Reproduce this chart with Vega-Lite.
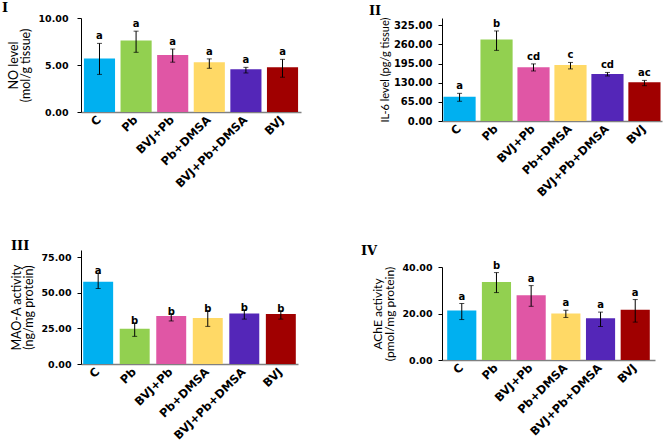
{
  "$schema": "https://vega.github.io/schema/vega-lite/v6.json",
  "padding": {"left": 2, "top": 2, "right": 2, "bottom": 2},
  "background": "white",
  "datasets": {
    "d": [
      {"panel": "I", "group": "C", "mean": 5.7, "lo": 4.0, "hi": 7.3, "letter": "a"},
      {"panel": "I", "group": "Pb", "mean": 7.6, "lo": 6.35, "hi": 8.6, "letter": "a"},
      {"panel": "I", "group": "BVJ+Pb", "mean": 6.06, "lo": 5.3, "hi": 6.7, "letter": "a"},
      {"panel": "I", "group": "Pb+DMSA", "mean": 5.29, "lo": 4.65, "hi": 5.65, "letter": "a"},
      {"panel": "I", "group": "BVJ+Pb+DMSA", "mean": 4.54, "lo": 4.15, "hi": 4.75, "letter": "a"},
      {"panel": "I", "group": "BVJ", "mean": 4.75, "lo": 3.7, "hi": 5.6, "letter": "a"},
      {"panel": "II", "group": "C", "mean": 82.7, "lo": 67, "hi": 94, "letter": "a"},
      {"panel": "II", "group": "Pb", "mean": 277, "lo": 240, "hi": 306, "letter": "b"},
      {"panel": "II", "group": "BVJ+Pb", "mean": 183, "lo": 170, "hi": 194, "letter": "cd"},
      {"panel": "II", "group": "Pb+DMSA", "mean": 190, "lo": 177, "hi": 199, "letter": "c"},
      {"panel": "II", "group": "BVJ+Pb+DMSA", "mean": 160, "lo": 153, "hi": 165, "letter": "cd"},
      {"panel": "II", "group": "BVJ", "mean": 132, "lo": 120, "hi": 138, "letter": "ac"},
      {"panel": "III", "group": "C", "mean": 57.7, "lo": 52.9, "hi": 63.6, "letter": "a"},
      {"panel": "III", "group": "Pb", "mean": 24.7, "lo": 19.4, "hi": 28.6, "letter": "b"},
      {"panel": "III", "group": "BVJ+Pb", "mean": 33.7, "lo": 30.2, "hi": 35.2, "letter": "b"},
      {"panel": "III", "group": "Pb+DMSA", "mean": 32.3, "lo": 26.4, "hi": 37.4, "letter": "b"},
      {"panel": "III", "group": "BVJ+Pb+DMSA", "mean": 35.4, "lo": 31.5, "hi": 37.8, "letter": "b"},
      {"panel": "III", "group": "BVJ", "mean": 35.1, "lo": 31.5, "hi": 37.2, "letter": "b"},
      {"panel": "IV", "group": "C", "mean": 21.3, "lo": 17.4, "hi": 24.3, "letter": "a"},
      {"panel": "IV", "group": "Pb", "mean": 33.6, "lo": 29.0, "hi": 37.6, "letter": "b"},
      {"panel": "IV", "group": "BVJ+Pb", "mean": 27.9, "lo": 23.1, "hi": 32.0, "letter": "a"},
      {"panel": "IV", "group": "Pb+DMSA", "mean": 20.0, "lo": 18.3, "hi": 21.4, "letter": "a"},
      {"panel": "IV", "group": "BVJ+Pb+DMSA", "mean": 18.0, "lo": 14.4, "hi": 20.6, "letter": "a"},
      {"panel": "IV", "group": "BVJ", "mean": 21.6, "lo": 16.3, "hi": 26.0, "letter": "a"}
    ]
  },
  "hconcat": [
    {
      "spacing": 50,
      "vconcat": [
        {
          "width": 220, "height": 94,
          "title": {"text": "I", "anchor": "start", "frame": "group", "dx": -79, "offset": -2},
          "data": {"name": "d"},
          "transform": [{"filter": "datum.panel === 'I'"}],
          "encoding": {"x": {"field": "group", "type": "nominal", "sort": ["C", "Pb", "BVJ+Pb", "Pb+DMSA", "BVJ+Pb+DMSA", "BVJ"], "scale": {"paddingInner": 0.15, "paddingOuter": 0.08}, "axis": {"title": null}}},
          "layer": [
            {"mark": {"type": "bar"}, "encoding": {
              "y": {"field": "mean", "type": "quantitative", "title": ["NO level", "(mol/g tissue)"], "scale": {"domain": [0, 10]}, "axis": {"values": [0, 5, 10], "tickCount": 20, "labelFontSize": 9.5, "labelPadding": 9}},
              "color": {"field": "group", "type": "nominal", "scale": {"domain": ["C", "Pb", "BVJ+Pb", "Pb+DMSA", "BVJ+Pb+DMSA", "BVJ"], "range": ["#00b0f0", "#92d050", "#e056a5", "#ffd966", "#5426b8", "#a00000"]}, "legend": null}}},
            {"mark": {"type": "errorbar", "ticks": {"size": 5}, "color": "black", "thickness": 1}, "encoding": {"y": {"field": "lo", "type": "quantitative", "title": ["NO level", "(mol/g tissue)"], "axis": {"values": [0, 5, 10], "tickCount": 20, "labelFontSize": 9.5, "labelPadding": 9}}, "y2": {"field": "hi"}}},
            {"mark": {"type": "text", "dy": -2, "baseline": "bottom", "font": "DejaVu Sans", "fontWeight": "bold", "fontSize": 10, "color": "black"}, "encoding": {"y": {"field": "hi", "type": "quantitative", "title": ["NO level", "(mol/g tissue)"], "axis": {"values": [0, 5, 10], "tickCount": 20, "labelFontSize": 9.5, "labelPadding": 9}}, "text": {"field": "letter"}}}
          ]
        },
        {
          "width": 217, "height": 114,
          "title": {"text": "III", "anchor": "start", "frame": "group", "dx": -70, "offset": -3},
          "data": {"name": "d"},
          "transform": [{"filter": "datum.panel === 'III'"}],
          "encoding": {"x": {"field": "group", "type": "nominal", "sort": ["C", "Pb", "BVJ+Pb", "Pb+DMSA", "BVJ+Pb+DMSA", "BVJ"], "scale": {"paddingInner": 0.18, "paddingOuter": 0.06}, "axis": {"title": null}}},
          "layer": [
            {"mark": {"type": "bar"}, "encoding": {
              "y": {"field": "mean", "type": "quantitative", "title": ["MAO-A activity", "(ng/mg protein)"], "scale": {"domain": [0, 75]}, "axis": {"values": [0, 25, 50, 75], "tickCount": 20, "labelFontSize": 9.5}},
              "color": {"field": "group", "type": "nominal", "scale": {"domain": ["C", "Pb", "BVJ+Pb", "Pb+DMSA", "BVJ+Pb+DMSA", "BVJ"], "range": ["#00b0f0", "#92d050", "#e056a5", "#ffd966", "#5426b8", "#a00000"]}, "legend": null}}},
            {"mark": {"type": "errorbar", "ticks": {"size": 5}, "color": "black", "thickness": 1}, "encoding": {"y": {"field": "lo", "type": "quantitative", "title": ["MAO-A activity", "(ng/mg protein)"], "axis": {"values": [0, 25, 50, 75], "tickCount": 20, "labelFontSize": 9.5}}, "y2": {"field": "hi"}}},
            {"mark": {"type": "text", "dy": 3, "baseline": "bottom", "font": "DejaVu Sans", "fontWeight": "bold", "fontSize": 10, "color": "black"}, "encoding": {"y": {"field": "hi", "type": "quantitative", "title": ["MAO-A activity", "(ng/mg protein)"], "axis": {"values": [0, 25, 50, 75], "tickCount": 20, "labelFontSize": 9.5}}, "text": {"field": "letter"}}}
          ]
        }
      ]
    },
    {
      "spacing": 45,
      "vconcat": [
        {
          "width": 220, "height": 103,
          "title": {"text": "II", "anchor": "start", "frame": "group", "dx": -73, "offset": -1},
          "data": {"name": "d"},
          "transform": [{"filter": "datum.panel === 'II'"}],
          "encoding": {"x": {"field": "group", "type": "nominal", "sort": ["C", "Pb", "BVJ+Pb", "Pb+DMSA", "BVJ+Pb+DMSA", "BVJ"], "scale": {"paddingInner": 0.13, "paddingOuter": 0.04}, "axis": {"title": null}}},
          "layer": [
            {"mark": {"type": "bar"}, "encoding": {
              "y": {"field": "mean", "type": "quantitative", "title": "IL-6 level (pg/g tissue)", "scale": {"domain": [0, 325]}, "axis": {"values": [0, 65, 130, 195, 260, 325], "tickCount": 20, "labelFontSize": 10, "titlePadding": 3, "titleFontSize": 11}},
              "color": {"field": "group", "type": "nominal", "scale": {"domain": ["C", "Pb", "BVJ+Pb", "Pb+DMSA", "BVJ+Pb+DMSA", "BVJ"], "range": ["#00b0f0", "#92d050", "#e056a5", "#ffd966", "#5426b8", "#a00000"]}, "legend": null}}},
            {"mark": {"type": "errorbar", "ticks": {"size": 5}, "color": "black", "thickness": 1}, "encoding": {"y": {"field": "lo", "type": "quantitative", "title": "IL-6 level (pg/g tissue)", "axis": {"values": [0, 65, 130, 195, 260, 325], "tickCount": 20, "labelFontSize": 10, "titlePadding": 3, "titleFontSize": 11}}, "y2": {"field": "hi"}}},
            {"mark": {"type": "text", "dy": -2, "baseline": "bottom", "font": "DejaVu Sans", "fontWeight": "bold", "fontSize": 10, "color": "black"}, "encoding": {"y": {"field": "hi", "type": "quantitative", "title": "IL-6 level (pg/g tissue)", "axis": {"values": [0, 65, 130, 195, 260, 325], "tickCount": 20, "labelFontSize": 10, "titlePadding": 3, "titleFontSize": 11}}, "text": {"field": "letter"}}}
          ]
        },
        {
          "width": 213, "height": 93,
          "title": {"text": "IV", "anchor": "start", "frame": "group", "dx": -81, "offset": 3},
          "data": {"name": "d"},
          "transform": [{"filter": "datum.panel === 'IV'"}],
          "encoding": {"x": {"field": "group", "type": "nominal", "sort": ["C", "Pb", "BVJ+Pb", "Pb+DMSA", "BVJ+Pb+DMSA", "BVJ"], "scale": {"paddingInner": 0.16, "paddingOuter": 0.15}, "axis": {"title": null}}},
          "layer": [
            {"mark": {"type": "bar"}, "encoding": {
              "y": {"field": "mean", "type": "quantitative", "title": ["AChE activity", "(pmol/mg protein)"], "scale": {"domain": [0, 40]}, "axis": {"values": [0, 20, 40], "tickCount": 20, "labelFontSize": 9.5, "titleFontSize": 12}},
              "color": {"field": "group", "type": "nominal", "scale": {"domain": ["C", "Pb", "BVJ+Pb", "Pb+DMSA", "BVJ+Pb+DMSA", "BVJ"], "range": ["#00b0f0", "#92d050", "#e056a5", "#ffd966", "#5426b8", "#a00000"]}, "legend": null}}},
            {"mark": {"type": "errorbar", "ticks": {"size": 5}, "color": "black", "thickness": 1}, "encoding": {"y": {"field": "lo", "type": "quantitative", "title": ["AChE activity", "(pmol/mg protein)"], "axis": {"values": [0, 20, 40], "tickCount": 20, "labelFontSize": 9.5, "titleFontSize": 12}}, "y2": {"field": "hi"}}},
            {"mark": {"type": "text", "dy": -2, "baseline": "bottom", "font": "DejaVu Sans", "fontWeight": "bold", "fontSize": 10, "color": "black"}, "encoding": {"y": {"field": "hi", "type": "quantitative", "title": ["AChE activity", "(pmol/mg protein)"], "axis": {"values": [0, 20, 40], "tickCount": 20, "labelFontSize": 9.5, "titleFontSize": 12}}, "text": {"field": "letter"}}}
          ]
        }
      ]
    }
  ],
  "spacing": 60,
  "config": {
    "view": {"stroke": null},
    "title": {"font": "DejaVu Serif", "fontSize": 13, "fontWeight": "bold", "color": "black", "baseline": "alphabetic"},
    "axisY": {"domainColor": "black", "tickColor": "black", "tickSize": 4, "grid": false, "labelFont": "DejaVu Sans", "labelFontWeight": "bold", "labelFontSize": 9.5, "labelColor": "black", "labelOverlap": false, "labelFlush": false, "format": ".2f", "labelPadding": 6, "titleFont": "Lato", "titleFontWeight": "normal", "titleFontSize": 12.5, "titleColor": "black", "titlePadding": 5, "titleLineHeight": 12},
    "axisX": {"domainColor": "#808080", "domainWidth": 1.5, "ticks": false, "labelAngle": -45, "labelAlign": "right", "labelBaseline": "middle", "labelFont": "DejaVu Sans", "labelFontWeight": "bold", "labelFontSize": 11.5, "labelColor": "black", "labelPadding": 6}
  }
}
